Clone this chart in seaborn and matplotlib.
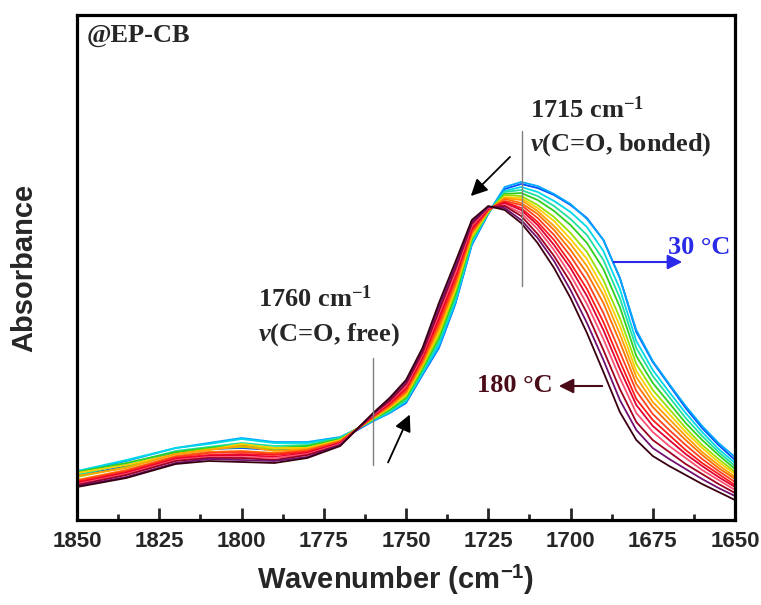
import numpy as np
import pandas as pd
import seaborn as sns
import matplotlib.pyplot as plt
from matplotlib.ticker import MultipleLocator

# wavenumber grid (cm-1)
wn = [1850, 1835, 1820, 1810, 1800, 1790, 1780, 1770, 1760, 1755, 1750, 1745, 1740, 1735, 1730, 1725,
      1720, 1715, 1710, 1705, 1700, 1695, 1690, 1685, 1680, 1675, 1670, 1665, 1660, 1655, 1650]

# absorbance (x1000), one spectrum per temperature
a30 = [44, 54, 67, 71, 72, 70, 72, 80, 99, 107, 117, 145, 172, 216, 275, 306, 331, 336, 332, 325, 315, 302, 280, 242, 188, 158, 135, 112, 92, 75, 60]
a40 = [48, 59, 72, 77, 82, 78, 78, 83, 99, 107, 118, 146, 173, 217, 276, 307, 333, 338, 334, 326, 316, 301, 280, 242, 190, 159, 136, 114, 94, 77, 63]
a50 = [49, 60, 72, 76, 81, 77, 77, 82, 100, 108, 119, 147, 176, 219, 277, 307, 329, 333, 328, 319, 308, 293, 269, 231, 179, 150, 128, 107, 88, 71, 57]
a60 = [45, 56, 69, 73, 77, 74, 75, 82, 100, 109, 120, 149, 179, 222, 279, 307, 328, 330, 324, 314, 301, 285, 260, 222, 172, 144, 123, 102, 84, 68, 54]
a70 = [48, 57, 68, 72, 75, 72, 74, 81, 101, 110, 122, 151, 182, 225, 281, 308, 326, 327, 320, 309, 295, 277, 251, 213, 164, 137, 117, 97, 80, 65, 51]
a80 = [43, 53, 66, 71, 73, 71, 72, 80, 101, 112, 124, 153, 185, 229, 282, 308, 325, 324, 315, 303, 287, 268, 240, 202, 156, 130, 111, 92, 75, 61, 48]
a90 = [47, 55, 66, 70, 76, 72, 72, 80, 102, 112, 125, 155, 188, 231, 284, 309, 323, 322, 312, 299, 281, 261, 232, 194, 149, 124, 106, 88, 72, 58, 46]
a100 = [44, 52, 66, 70, 74, 69, 71, 79, 102, 113, 127, 156, 191, 234, 286, 309, 322, 320, 309, 294, 276, 254, 225, 186, 143, 118, 101, 84, 68, 55, 43]
a110 = [40, 50, 64, 68, 69, 67, 70, 79, 103, 114, 128, 158, 194, 236, 287, 310, 321, 317, 306, 290, 270, 247, 217, 178, 136, 113, 96, 80, 65, 52, 41]
a120 = [39, 49, 63, 67, 68, 66, 69, 78, 103, 115, 130, 160, 197, 239, 289, 310, 319, 315, 302, 285, 264, 239, 207, 168, 129, 106, 90, 75, 61, 49, 38]
a130 = [38, 48, 62, 65, 66, 65, 68, 77, 104, 116, 131, 162, 200, 242, 290, 311, 318, 312, 298, 280, 257, 231, 198, 159, 121, 100, 85, 70, 57, 46, 35]
a140 = [37, 47, 61, 64, 65, 63, 67, 77, 104, 117, 133, 163, 203, 245, 292, 311, 317, 310, 295, 275, 252, 224, 190, 151, 115, 94, 80, 66, 54, 43, 33]
a150 = [36, 46, 60, 63, 63, 62, 66, 76, 105, 118, 134, 165, 206, 247, 294, 312, 315, 307, 291, 270, 245, 216, 181, 142, 107, 88, 74, 62, 50, 40, 30]
a160 = [35, 45, 59, 62, 62, 60, 65, 75, 106, 119, 136, 167, 209, 251, 296, 313, 314, 304, 286, 264, 238, 207, 170, 131, 98, 80, 68, 56, 46, 36, 27]
a170 = [34, 43, 57, 61, 60, 59, 63, 75, 106, 121, 138, 170, 213, 254, 298, 313, 312, 300, 282, 259, 230, 197, 160, 120, 90, 72, 61, 51, 41, 32, 24]
a180 = [33, 42, 56, 59, 58, 57, 62, 74, 107, 122, 140, 172, 217, 258, 300, 314, 310, 297, 277, 252, 222, 187, 148, 108, 80, 64, 54, 45, 36, 28, 20]

temps = [30, 40, 50, 60, 70, 80, 90, 100, 110, 120, 130, 140, 150, 160, 170, 180]
spectra = [a30, a40, a50, a60, a70, a80, a90, a100, a110, a120, a130, a140, a150, a160, a170, a180]
colors = ['#0050ff', '#00a8ff', '#00d8e8', '#20e0a0', '#30d020', '#98e000', '#ffd000', '#ffa000',
          '#ff7000', '#ff4020', '#ff1a1a', '#e00030', '#ff5070', '#a00020', '#701070', '#3a0010']

rows = []
for t, s in zip(temps, spectra):
    for w, v in zip(wn, s):
        rows.append((t, w, v / 1000))
df = pd.DataFrame(rows, columns=['T', 'wn', 'A'])

sns.set_theme(style='white')
plt.rcParams['font.family'] = ['Liberation Sans', 'DejaVu Sans']
plt.rcParams['mathtext.fontset'] = 'custom'
plt.rcParams['mathtext.it'] = 'Liberation Serif:bold:italic'
plt.rcParams['mathtext.rm'] = 'Liberation Serif:bold'
plt.rcParams['mathtext.sf'] = 'Liberation Sans:bold'

fig = plt.figure(figsize=(7.61, 6.05), dpi=100)
ax = fig.add_axes([77 / 761, 85 / 605, 658 / 761, 505 / 605])

sns.lineplot(data=df, x='wn', y='A', hue='T', palette=colors, legend=False,
             estimator=None, lw=1.3, ax=ax)

ax.set_xlim(1850, 1650)
ax.set_ylim(0, 0.505)
ax.xaxis.set_major_locator(MultipleLocator(25))
ax.xaxis.set_minor_locator(MultipleLocator(12.5))
ax.tick_params(axis='x', which='major', direction='in', length=9, width=2,
               labelsize=16, pad=8, bottom=True, top=False)
ax.tick_params(axis='x', which='minor', direction='in', length=4.5, width=2,
               bottom=True, top=False)
for lab in ax.get_xticklabels():
    lab.set_fontweight('bold')
ax.set_yticks([])
for sp in ax.spines.values():
    sp.set_color('black')
    sp.set_linewidth(2.3)

ax.set_xlabel(r'Wavenumber (cm$^{\mathsf{-1}}$)', fontsize=21, fontweight='bold')
ax.xaxis.set_label_coords(0.484, -0.085)
ax.set_ylabel('Absorbance', fontsize=21, fontweight='bold', labelpad=28)

serif = ['Liberation Serif', 'DejaVu Serif']
fs = 19
ax.text(1847, 0.496, '@EP-CB', family=serif, fontsize=fs, fontweight='bold', va='top')
ax.text(1712.3, 0.424, '1715 cm$^{-1}$', family=serif, fontsize=fs, fontweight='bold', va='top')
ax.text(1712.3, 0.389, '$v$(C=O, bonded)', family=serif, fontsize=fs, fontweight='bold', va='top')
ax.text(1795, 0.235, '1760 cm$^{-1}$', family=serif, fontsize=fs, fontweight='bold', va='top')
ax.text(1795, 0.199, '$v$(C=O, free)', family=serif, fontsize=fs, fontweight='bold', va='top')
ax.text(1670.4, 0.273, '30 °C', family=serif, fontsize=fs, fontweight='bold',
        va='center', color='#2a2ae8')
ax.text(1728.5, 0.135, '180 °C', family=serif, fontsize=fs, fontweight='bold',
        va='center', color='#4a0c18')

ax.plot([1760, 1760], [0.055, 0.162], color='#808080', lw=1)
ax.plot([1714.7, 1714.7], [0.234, 0.389], color='#808080', lw=1)

ax.annotate('', xy=(1730.9, 0.322), xytext=(1717.8, 0.365),
            arrowprops=dict(arrowstyle='-|>', mutation_scale=25, lw=1.3, color='black'))
ax.annotate('', xy=(1748.5, 0.108), xytext=(1755.8, 0.055),
            arrowprops=dict(arrowstyle='-|>', mutation_scale=25, lw=1.3, color='black'))
ax.annotate('', xy=(1665.2, 0.258), xytext=(1687.7, 0.258),
            arrowprops=dict(arrowstyle='-|>', mutation_scale=22, lw=1.5, color='#2a2ae8'))
ax.annotate('', xy=(1704.4, 0.134), xytext=(1689.5, 0.134),
            arrowprops=dict(arrowstyle='-|>', mutation_scale=22, lw=1.5, color='#4a0c18'))

fig.savefig('out.png', dpi=100, facecolor='white')
